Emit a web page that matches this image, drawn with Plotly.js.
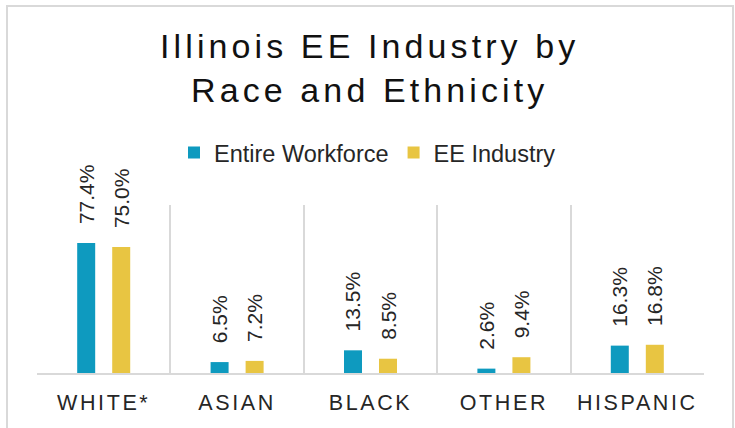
<!DOCTYPE html>
<html>
<head>
<meta charset="utf-8">
<script src="https://cdn.plot.ly/plotly-3.0.1.min.js"></script>
<style>
  html, body { margin: 0; padding: 0; background: #fff; }
  #wrap { position: relative; width: 735px; height: 428px; overflow: hidden; }
  #chart { width: 735px; height: 428px; }
  #frame { position: absolute; left: 6px; top: 5px; width: 724px; height: 440px;
           border: 2px solid #d9d9d9; pointer-events: none; }
  #chart .gtitle { letter-spacing: 4.1px; }
  #chart .xtick text { letter-spacing: 2.6px; }
</style>
</head>
<body>
<div id="wrap">
  <div id="chart"></div>
  <div id="frame"></div>
</div>
<script>
const categories = ["WHITE*", "ASIAN", "BLACK", "OTHER", "HISPANIC"];
const entireWorkforce = [77.4, 6.5, 13.5, 2.6, 16.3];
const eeIndustry = [75.0, 7.2, 8.5, 9.4, 16.8];
const seriesNames = ["Entire Workforce", "EE Industry"];
const titleText = "Illinois EE Industry by<br>Race and Ethnicity";

const pad = "\u00a0\u00a0\u2009";
function labels(vals) { return vals.map(v => pad + v.toFixed(1) + "%"); }

const textColor = "#262626";
const labelFont = { family: "Liberation Sans, Arial, sans-serif", size: 21, color: textColor };

const traces = [
  {
    type: "bar", name: seriesNames[0], x: categories, y: entireWorkforce,
    marker: { color: "#0e9abf" },
    text: labels(entireWorkforce), textposition: "outside", textangle: -90,
    textfont: labelFont, constraintext: "none", cliponaxis: false,
    hoverinfo: "skip"
  },
  {
    type: "bar", name: seriesNames[1], x: categories, y: eeIndustry,
    marker: { color: "#e8c542" },
    text: labels(eeIndustry), textposition: "outside", textangle: -90,
    textfont: labelFont, constraintext: "none", cliponaxis: false,
    hoverinfo: "skip"
  }
];

const layout = {
  width: 735, height: 428,
  margin: { l: 37, r: 31, t: 205, b: 55, pad: 0 },
  paper_bgcolor: "#ffffff", plot_bgcolor: "#ffffff",
  font: { family: "Liberation Sans, Arial, sans-serif", color: textColor },
  title: {
    text: titleText,
    font: { family: "Liberation Sans, Arial, sans-serif", size: 34, color: "#111111" },
    x: 0.503, xref: "container", xanchor: "center",
    y: 0.8654, yref: "container", yanchor: "top"
  },
  barmode: "group",
  bargap: 0.475,
  bargroupgap: 0.486,
  showlegend: true,
  legend: {
    orientation: "h", x: 0.5, xanchor: "center", xref: "container",
    y: 0.643, yanchor: "middle", yref: "container",
    font: { family: "Liberation Sans, Arial, sans-serif", size: 23.5, color: textColor },
    bgcolor: "rgba(0,0,0,0)", traceorder: "normal"
  },
  xaxis: {
    type: "category",
    showgrid: true, gridcolor: "#d9d9d9", gridwidth: 2,
    tickson: "boundaries", ticks: "",
    showline: true, linecolor: "#d9d9d9", linewidth: 2,
    tickfont: { family: "Liberation Sans, Arial, sans-serif", size: 21.5, color: textColor },
    ticklabelstandoff: 9,
    fixedrange: true
  },
  yaxis: {
    range: [0, 100], visible: false, showgrid: false, zeroline: false, fixedrange: true
  }
};

Plotly.newPlot("chart", traces, layout, { staticPlot: true, displayModeBar: false });
</script>
</body>
</html>
